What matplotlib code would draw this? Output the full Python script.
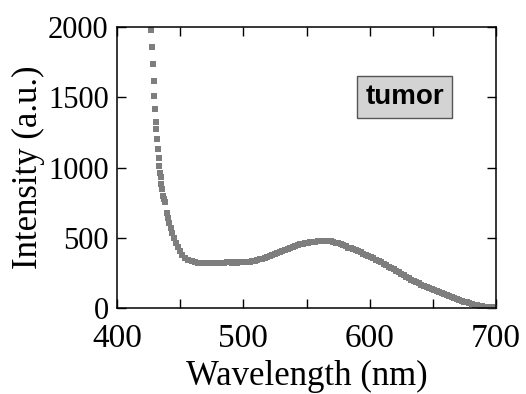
import matplotlib
matplotlib.use("Agg")
import matplotlib.pyplot as plt
from matplotlib.ticker import MultipleLocator, FuncFormatter

# Wavelength (nm) and intensity (a.u.)
wavelength = [
    426.7, 427.7, 428.5, 429.0, 429.3, 430.1, 430.6, 431.1, 431.9, 432.2,
    433.0, 433.5, 434.0, 434.6, 435.1, 435.6, 436.7, 437.2, 438.0,
    439.3, 440.3, 441.4, 442.6, 443.8, 445.2, 446.7, 448.3, 449.9, 451.8,
    453.8, 456.4, 459.1, 461.7, 464.4,
    467, 469, 471, 473, 475, 477, 479, 481, 483, 485, 487, 489, 491, 493,
    495, 497, 499, 501, 503, 505, 507, 509, 511, 513, 515, 517, 519, 521,
    523, 525, 527, 529, 531, 533, 535, 537, 539, 541, 543, 545, 547, 549,
    551, 553, 555, 557, 559, 561, 563, 565, 567, 569, 571, 573, 575, 577,
    579, 581, 583, 585, 587, 589, 591, 593, 595, 597, 599, 601, 603, 605,
    607, 609, 611, 613, 615, 617, 619, 621, 623, 625, 627, 629, 631, 633,
    635, 637, 639, 641, 643, 645, 647, 649, 651, 653, 655, 657, 659, 661,
    663, 665, 667, 669, 671, 673, 675, 677, 679, 681, 683, 685, 687, 689,
    691, 693, 695, 697, 699,
]
intensity = [
    1978, 1859, 1739, 1613, 1510, 1414, 1326, 1278, 1201, 1135,
    1070, 1015, 961, 932, 884, 848, 800, 776, 753,
    681, 640, 609, 572, 538, 500, 466, 434, 406, 380,
    358, 344, 334, 327, 323,
    322, 321, 322, 323, 324, 323, 325, 324, 325, 324, 326, 326, 325, 326,
    325, 327, 327, 329, 330, 332, 335, 338, 342, 347, 354, 361, 368, 375,
    382, 389, 395, 401, 409, 416, 423, 430, 436, 442, 448, 454, 459, 463,
    467, 470, 472, 474, 476, 478, 479, 480, 479, 477, 473, 467, 461, 455,
    448, 440, 432, 428, 420, 413, 405, 397, 389, 381, 372, 364, 355, 346,
    336, 326, 316, 306, 296, 286, 276, 265, 255, 245, 234, 224, 214, 204,
    195, 186, 177, 168, 160, 152, 144, 136, 129, 122, 115, 109, 102, 96,
    89, 82, 75, 68, 62, 55, 48, 42, 36, 31, 26, 21, 17, 14,
    12, 10, 9, 7, 4,
]
x_labels = ["400", "500", "600", "700"]
y_labels = ["0", "500", "1000", "1500", "2000"]
sample_label = "tumor"

fig = plt.figure(figsize=(5.26, 3.94), dpi=100)
ax = fig.add_axes([0.2224, 0.2175, 0.7206, 0.714])

ax.plot(wavelength, intensity, linestyle="none", marker="s",
        markersize=4.0, color="#7e7e7e", markeredgewidth=0)

ax.set_xlim(400, 700)
ax.set_ylim(0, 2000)
ax.xaxis.set_major_locator(MultipleLocator(50))
ax.yaxis.set_major_locator(MultipleLocator(500))


def xfmt(v, pos):
    s = str(int(round(v)))
    return s if s in x_labels else ""


def yfmt(v, pos):
    s = str(int(round(v)))
    return s if s in y_labels else ""


ax.xaxis.set_major_formatter(FuncFormatter(xfmt))
ax.yaxis.set_major_formatter(FuncFormatter(yfmt))

ax.tick_params(axis="both", direction="in", length=6.5, width=1.0,
               top=True, right=True)
ax.tick_params(axis="x", pad=11)
ax.tick_params(axis="y", pad=6)
for lab in ax.get_xticklabels():
    lab.set_fontfamily("Liberation Serif")
    lab.set_fontsize(24)
for lab in ax.get_yticklabels():
    lab.set_fontfamily("Liberation Serif")
    lab.set_fontsize(22)

for sp in ax.spines.values():
    sp.set_linewidth(1.1)
    sp.set_color("black")

ax.set_xlabel("Wavelength (nm)", family="Liberation Serif", fontsize=25,
              labelpad=4)
ax.set_ylabel("Intensity (a.u.)", family="Liberation Serif", fontsize=25,
              labelpad=2)

ax.text(0.7586, 0.751, sample_label, transform=ax.transAxes,
        ha="center", va="center", fontsize=20, fontweight="bold",
        family="Liberation Sans", color="black",
        bbox=dict(boxstyle="square,pad=0.3", facecolor="#d3d3d3",
                  edgecolor="#555555", linewidth=1.0))

fig.savefig("out.png", dpi=100)
